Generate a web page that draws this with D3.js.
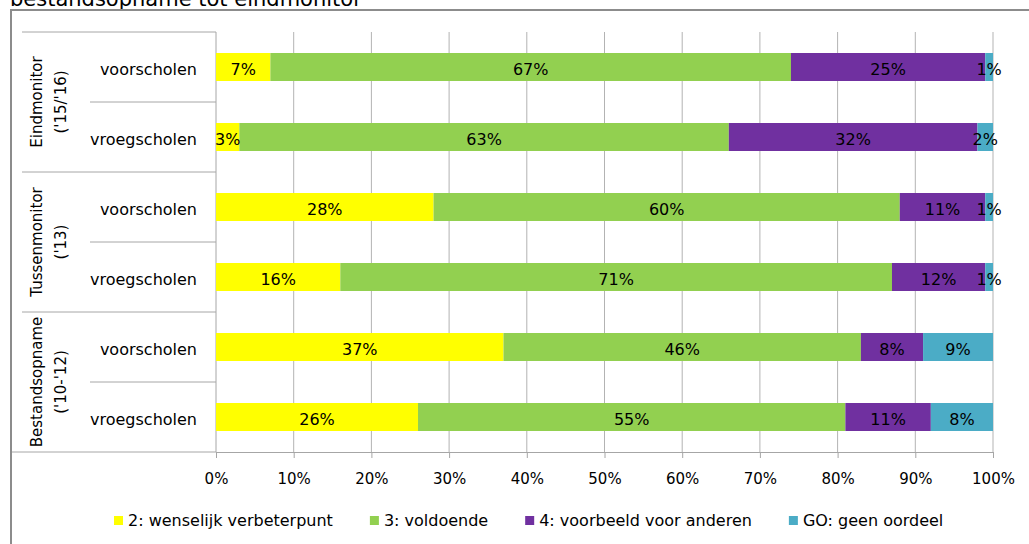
<!DOCTYPE html>
<html>
<head>
<meta charset="utf-8">
<script src="https://cdn.jsdelivr.net/npm/d3@7"></script>
<style>
  body { margin: 0; background: #fff; }
  text { font-family: "DejaVu Sans", sans-serif; fill: #000; }
</style>
</head>
<body>
<div id="chart"></div>
<script>
// data
const groupNames = ["Eindmonitor", "Tussenmonitor", "Bestandsopname"];
const groupPeriods = ["('15/'16)", "('13)", "('10-'12)"];
const schools = ["voorscholen", "vroegscholen"];
const seriesNames = ["2: wenselijk verbeterpunt", "3: voldoende", "4: voorbeeld voor anderen", "GO: geen oordeel"];
const seriesColors = ["#ffff00", "#92d050", "#7030a0", "#4bacc6"];
// one array per series, rows top to bottom
const score2 = [7, 3, 28, 16, 37, 26];
const score3 = [67, 63, 60, 71, 46, 55];
const score4 = [25, 32, 11, 12, 8, 11];
const scoreGO = [1, 2, 1, 1, 9, 8];
const xTicks = [0, 10, 20, 30, 40, 50, 60, 70, 80, 90, 100];

const width = 1029, height = 544;
const plotL = 216, plotR = 993, plotT = 32, plotB = 452;

const rows = [];
groupNames.forEach((g, gi) => schools.forEach((s, si) => {
  rows.push({ id: gi * 2 + si, group: g, school: s });
}));
const seriesVals = [score2, score3, score4, scoreGO];

const svg = d3.select("#chart").append("svg")
    .attr("width", width)
    .attr("height", height);

// title, cut off at the top
svg.append("text")
    .attr("x", 10).attr("y", 6)
    .style("font-size", "21px")
    .text("bestandsopname tot eindmonitor");

// frame
svg.append("path")
    .attr("d", "M11,600V10H1100")
    .attr("fill", "none")
    .attr("stroke", "#8c8c8c")
    .attr("stroke-width", 2);

const x = d3.scaleLinear().domain([0, 100]).range([plotL, plotR]);
const y = d3.scaleBand().domain(rows.map(d => d.id)).range([plotT, plotB])
    .paddingInner(0.6).paddingOuter(0.3);
const step = y.step();

// gridlines
svg.append("g").selectAll("line").data(xTicks.slice(1)).join("line")
    .attr("x1", d => x(d)).attr("x2", d => x(d))
    .attr("y1", plotT).attr("y2", plotB)
    .attr("stroke", "#b3b3b3");

// x axis
const xAxis = svg.append("g")
    .attr("transform", `translate(0,${plotB})`)
    .call(d3.axisBottom(x).tickValues(xTicks).tickFormat(d => d + "%").tickSizeOuter(0).tickSize(6).tickPadding(15));
xAxis.select(".domain").attr("stroke", "#a6a6a6");
xAxis.selectAll(".tick line").attr("stroke", "#a6a6a6");
xAxis.selectAll(".tick text")
    .style("font-size", "15px")
    .style("font-family", "DejaVu Sans, sans-serif")
    .attr("fill", "#000");

// left axis line
svg.append("line")
    .attr("x1", plotL).attr("x2", plotL).attr("y1", plotT).attr("y2", plotB)
    .attr("stroke", "#a6a6a6");

// category box lines
const lineCol = "#a6a6a6";
const cat = svg.append("g");
cat.append("line").attr("x1", 22).attr("x2", plotL).attr("y1", plotT).attr("y2", plotT).attr("stroke", lineCol);
cat.append("line").attr("x1", 12).attr("x2", plotL).attr("y1", plotB).attr("y2", plotB).attr("stroke", lineCol);
rows.forEach((r, i) => {
  if (i === 0) return;
  const yy = plotT + i * step;
  cat.append("line")
      .attr("x1", i % 2 === 0 ? 22 : 90).attr("x2", plotL)
      .attr("y1", yy).attr("y2", yy)
      .attr("stroke", lineCol);
});

// school labels
svg.append("g").selectAll("text").data(rows).join("text")
    .attr("x", 197)
    .attr("y", d => y(d.id) + y.bandwidth() / 2 + 8)
    .attr("text-anchor", "end")
    .style("font-size", "16px")
    .text(d => d.school);

// group labels (rotated)
groupNames.forEach((g, gi) => {
  const cy = plotT + (gi * 2 + 1) * step;
  const t = svg.append("text")
      .attr("transform", `translate(0,${cy}) rotate(-90)`)
      .attr("text-anchor", "middle")
      .style("font-size", "15px");
  t.append("tspan").attr("x", 0).attr("y", 42).text(g);
  t.append("tspan").attr("x", 0).attr("y", 66).text(groupPeriods[gi]);
});

// stacked segments
const segs = [];
rows.forEach(r => {
  let acc = 0;
  seriesVals.forEach((vals, si) => {
    const v = vals[r.id];
    segs.push({ row: r.id, s: si, x0: acc, x1: acc + v, v: v });
    acc += v;
  });
});

svg.append("g").selectAll("rect").data(segs).join("rect")
    .attr("x", d => x(d.x0))
    .attr("width", d => x(d.x1) - x(d.x0))
    .attr("y", d => y(d.row))
    .attr("height", y.bandwidth())
    .attr("fill", d => seriesColors[d.s]);

svg.append("g").selectAll("text").data(segs).join("text")
    .attr("x", d => (x(d.x0) + x(d.x1)) / 2)
    .attr("y", d => y(d.row) + y.bandwidth() / 2 + 8)
    .attr("text-anchor", "middle")
    .style("font-size", "16px")
    .text(d => d.v + "%");

// legend
const legend = svg.append("g");
let lx = 114;
seriesNames.forEach((name, i) => {
  legend.append("rect")
      .attr("x", lx).attr("y", 516)
      .attr("width", 9).attr("height", 9)
      .attr("fill", seriesColors[i]);
  const t = legend.append("text")
      .attr("x", lx + 14).attr("y", 526)
      .style("font-size", "16px")
      .text(name);
  lx = lx + 14 + t.node().getComputedTextLength() + 37;
});
</script>
</body>
</html>
